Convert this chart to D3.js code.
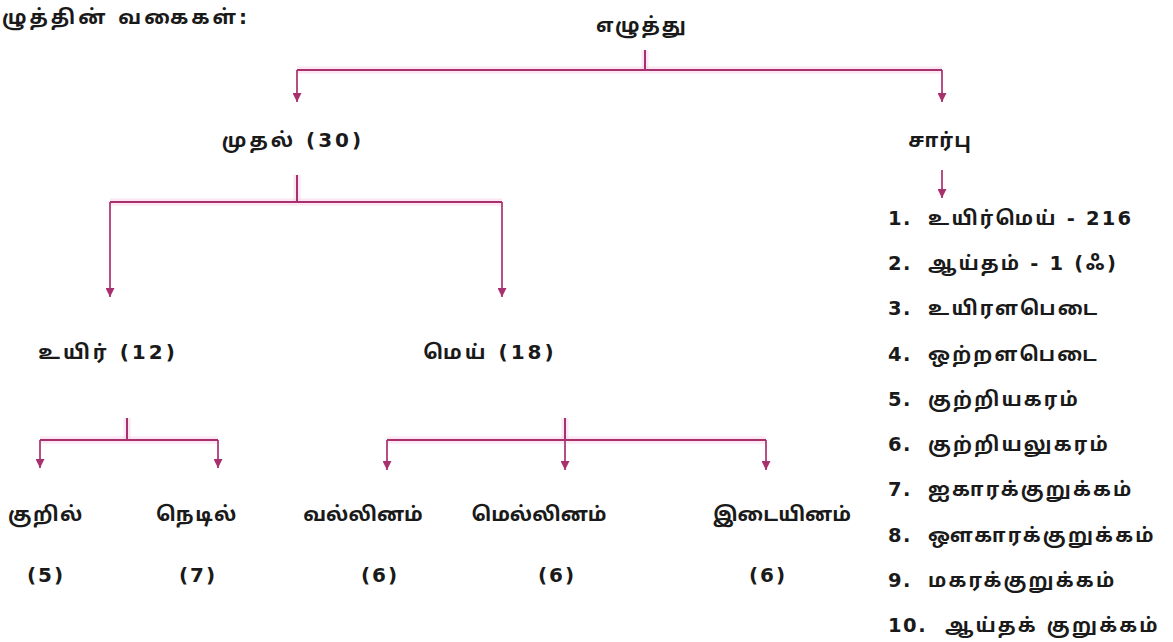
<!DOCTYPE html>
<html>
<head>
<meta charset="utf-8">
<script src="https://cdn.jsdelivr.net/npm/d3@7"></script>
<style>
  body { margin: 0; background: #fff; }
  text { font-family: "DejaVu Sans", "Noto Sans Tamil", "Noto Sans", sans-serif; font-weight: bold; fill: #1a1a1a; }
</style>
</head>
<body>
<svg id="chart" width="1173" height="642"></svg>
<script>
// labels of the tree
const title = "எழுத்தின் வகைகள்:";
const root = "எழுத்து";
const mainKinds = ["முதல்  (30)", "சார்பு"];
const firstKinds = ["உயிர்  (12)", "மெய்  (18)"];
const uyirKinds = ["குறில்", "நெடில்"];
const uyirCounts = [5, 7];
const meyKinds = ["வல்லினம்", "மெல்லினம்", "இடையினம்"];
const meyCounts = [6, 6, 6];
const saarbuKinds = [
  "உயிர்மெய்  -  216",
  "ஆய்தம்  -  1 (ஃ)",
  "உயிரளபெடை",
  "ஒற்றளபெடை",
  "குற்றியகரம்",
  "குற்றியலுகரம்",
  "ஐகாரக்குறுக்கம்",
  "ஔகாரக்குறுக்கம்",
  "மகரக்குறுக்கம்",
  "ஆய்தக் குறுக்கம்"
];

const svg = d3.select("#chart");
const lineColor = "#a8306e";

// layout: x in page pixels, rows by name
const x = d3.scaleLinear().domain([0, 1173]).range([0, 1173]);
const row = d3.scaleOrdinal()
  .domain(["root", "bar0", "main", "bar1", "first", "bar2", "leaf", "count"])
  .range([25, 70, 140, 202, 352, 440, 514, 575]);

const layout = {
  root: { text: 642, stem: 645 },
  main: { text: [293, 940], arrow: [297, 942], stem: 297, spacing: [3, 1] },
  first: { text: [108, 490], arrow: [110, 502], spacing: [3, 3] },
  uyir: { text: [46, 197], count: [46, 198], arrow: [40, 218], stem: 127 },
  mey: { text: [363, 539, 782], count: [380, 557, 768], arrow: [387, 565, 766], stem: 565 }
};

svg.append("defs").append("marker")
  .attr("id", "tip")
  .attr("markerUnits", "userSpaceOnUse")
  .attr("viewBox", "0 0 10 10")
  .attr("refX", 10).attr("refY", 5)
  .attr("markerWidth", 9).attr("markerHeight", 9)
  .attr("orient", "auto")
  .append("path")
  .attr("d", "M0,0 L10,5 L0,10 Z")
  .attr("fill", lineColor);

const links = svg.append("g");

function connector(stemX, stemTop, barY, arrowXs, tipY) {
  const lo = d3.min(arrowXs), hi = d3.max(arrowXs);
  const segs = [[[stemX, stemTop], [stemX, barY]], [[lo, barY], [hi, barY]]];
  // faint halo like the print
  links.selectAll(null).data(segs).join("path")
    .attr("d", d => d3.line()(d.map(p => [x(p[0]), p[1]])))
    .attr("stroke", "#f6cfe4").attr("stroke-width", 7).attr("fill", "none").attr("opacity", 0.5);
  links.selectAll(null).data(segs).join("path")
    .attr("d", d => d3.line()(d.map(p => [x(p[0]), p[1]])))
    .attr("stroke", lineColor).attr("stroke-width", 2).attr("fill", "none");
  arrow(arrowXs, barY, tipY);
}

function arrow(xs, y0, y1) {
  links.selectAll(null).data(xs).join("line")
    .attr("x1", d => x(d)).attr("x2", d => x(d))
    .attr("y1", y0).attr("y2", y1)
    .attr("stroke", lineColor).attr("stroke-width", 1.7)
    .attr("marker-end", "url(#tip)");
}

connector(layout.root.stem, 50, row("bar0"), layout.main.arrow, 102);
connector(layout.main.stem, 175, row("bar1"), layout.first.arrow, 297);
connector(layout.uyir.stem, 418, row("bar2"), layout.uyir.arrow, 468);
connector(layout.mey.stem, 418, row("bar2"), layout.mey.arrow, 470);
arrow([layout.main.arrow[1]], 170, 198);

const labels = svg.append("g").attr("font-size", 20).attr("dominant-baseline", "central");

// the scan cuts the title at the left edge
labels.append("text")
  .attr("x", 250).attr("y", 17).attr("text-anchor", "end")
  .attr("letter-spacing", 3)
  .text(title);

labels.append("text")
  .attr("x", x(layout.root.text)).attr("y", row("root")).attr("text-anchor", "middle")
  .attr("letter-spacing", 2)
  .text(root);

function rowText(items, xs, r, spacing) {
  labels.selectAll(null).data(items).join("text")
    .attr("x", (d, i) => x(xs[i])).attr("y", row(r))
    .attr("text-anchor", "middle")
    .attr("letter-spacing", (d, i) => Array.isArray(spacing) ? spacing[i] : spacing)
    .text(d => d);
}

rowText(mainKinds, layout.main.text, "main", layout.main.spacing);
rowText(firstKinds, layout.first.text, "first", layout.first.spacing);
rowText(uyirKinds, layout.uyir.text, "leaf", 1.5);
rowText(meyKinds, layout.mey.text, "leaf", 0);
rowText(uyirCounts.map(d => `(${d})`), layout.uyir.count, "count", 2);
rowText(meyCounts.map(d => `(${d})`), layout.mey.count, "count", 2);

// list under சார்பு
const listY = d3.scaleLinear().domain([0, saarbuKinds.length - 1]).range([218, 625]);
const items = labels.selectAll(null).data(saarbuKinds).join("text")
  .attr("x", 888).attr("y", (d, i) => listY(i))
  .attr("font-size", 19.5);
items.append("tspan").attr("letter-spacing", 1.5).text((d, i) => `${i + 1}.`);
items.append("tspan").attr("letter-spacing", 2.2)
  .attr("x", (d, i) => i === 9 ? 945 : 928).text(d => d);
</script>
</body>
</html>
